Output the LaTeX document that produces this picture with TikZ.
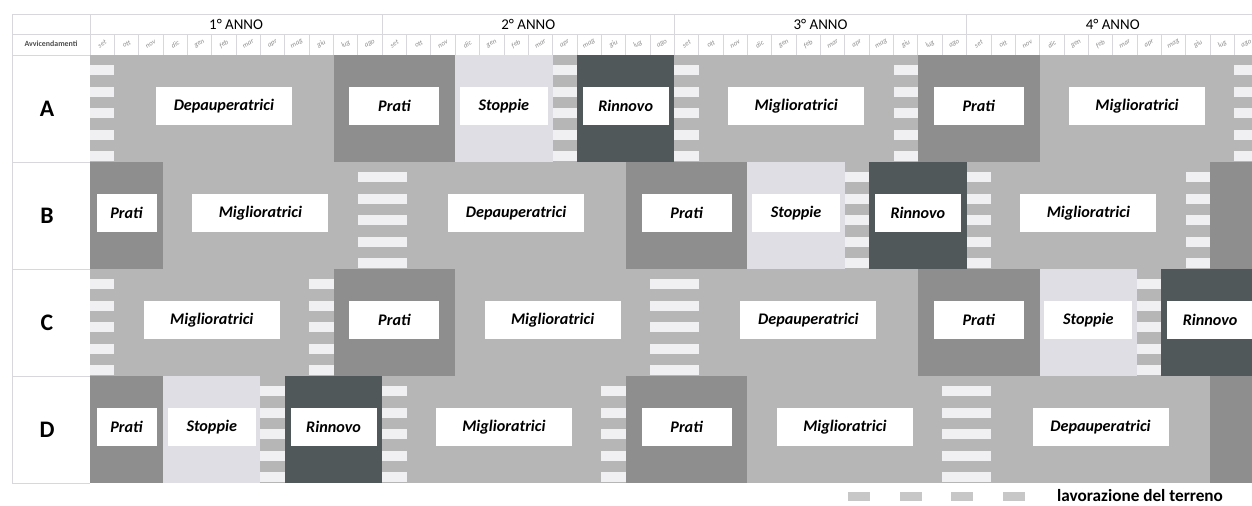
\documentclass[tikz,border=0pt]{standalone}
\usepackage{fontspec}
\setmainfont{Carlito}
\usetikzlibrary{positioning}

\definecolor{campo}{HTML}{B6B6B6}
\definecolor{prato}{HTML}{8E8E8E}
\definecolor{stoppia}{HTML}{DEDEE4}
\definecolor{rinnovo}{HTML}{505859}
\definecolor{barra}{HTML}{F0F0F2}
\definecolor{linea}{HTML}{D8D8DC}

\begin{document}
\begin{tikzpicture}[
    x=0.02cm, y=-0.02cm,
    campo/.style={fill=campo},
    prato/.style={fill=prato},
    stoppia/.style={fill=stoppia},
    rinnovo/.style={fill=rinnovo},
    etich/.style={fill=white, inner sep=0pt, minimum height=0.76cm, font=\bfseries\itshape\fontsize{9.2}{10}\selectfont},
    lettera/.style={font=\bfseries\fontsize{13.5}{15}\selectfont},
    anno/.style={font=\fontsize{8.5}{10}\selectfont},
    mese/.style={font=\itshape\fontsize{4}{5}\selectfont, text=black!45, rotate=30, inner sep=0pt},
    griglia/.style={draw=linea, line width=0.5pt},
    legq/.style={fill=black!22, inner sep=0pt, minimum width=0.44cm, minimum height=0.18cm}
]
\useasboundingbox (0,0) rectangle (1252,505);

% intestazione
\draw[griglia] (12,14) -- (1252,14);
\draw[griglia] (12,34) -- (1252,34);
\draw[griglia] (12,55) -- (90,55);
\draw[griglia] (12,14) -- (12,483);
\draw[griglia] (90,14) -- (90,483);
\foreach \y in {162,269,376,483}
  \draw[griglia] (12,\y) -- (90,\y);
\foreach \k in {1,2,3}
  \draw[griglia] ({90+292.2*\k},14) -- ++(0,41);
\foreach \k in {1,...,47}
  \draw[griglia] ({90+24.35*\k},34) -- ++(0,21);
\foreach \k in {1,...,4}
  \node[anno] (anno\k) at ({90+292.2*(\k-0.5)},24) {\k° ANNO};
\node[font=\bfseries\fontsize{4.5}{5}\selectfont, text=black!70] (avv) at (51,44) {Avvicendamenti};
\foreach \mm [count=\k from 0] in {set,ott,nov,dic,gen,feb,mar,apr,mag,giu,lug,ago}
  \foreach \n in {0,...,3}
    \node[mese] (m\n-\k) at ({90+24.35*(\n*12+\k+0.5)},44) {\mm};

% avvicendamenti
\begin{scope}
\clip (90,55) rectangle (1252,483);
\foreach \r/\t/\blocchi/\solchi in {
  A/55/{1/10/campo/Depauperatrici/136, 10/15/prato/Prati/90, 15/19/stoppia/Stoppie/88, 20/24/rinnovo/Rinnovo/86, 25/33/campo/Miglioratrici/136, 34/39/prato/Prati/90, 39/47/campo/Miglioratrici/136}/{0/1, 19/20, 24/25, 33/34, 47/48},
  B/162/{0/3/prato/Prati/60, 3/11/campo/Miglioratrici/136, 13/22/campo/Depauperatrici/136, 22/27/prato/Prati/90, 27/31/stoppia/Stoppie/88, 32/36/rinnovo/Rinnovo/86, 37/45/campo/Miglioratrici/136}/{11/13, 31/32, 36/37, 45/46},
  C/269/{1/9/campo/Miglioratrici/136, 10/15/prato/Prati/90, 15/23/campo/Miglioratrici/136, 25/34/campo/Depauperatrici/136, 34/39/prato/Prati/90, 39/43/stoppia/Stoppie/88, 44/48/rinnovo/Rinnovo/86}/{0/1, 9/10, 23/25, 43/44},
  D/376/{0/3/prato/Prati/60, 3/7/stoppia/Stoppie/88, 8/12/rinnovo/Rinnovo/86, 13/21/campo/Miglioratrici/136, 22/27/prato/Prati/90, 27/35/campo/Miglioratrici/136, 37/46/campo/Depauperatrici/136}/{7/8, 12/13, 21/22, 35/37}} {
  \foreach \a/\b/\tipo/\testo/\w in \blocchi {
    \fill[\tipo] ({90+24.35*\a},\t) rectangle ({90+24.35*\b},\t+107);
    \node[etich, minimum width=\w*0.02cm] (\r-\a) at ({90+12.175*(\a+\b)},\t+51) {\testo};
  }
  % lavorazione del terreno
  \foreach \a/\b in \solchi {
    \fill[campo] ({90+24.35*\a},\t) rectangle ({90+24.35*\b},\t+107);
    \foreach \i in {0,...,4}
      \fill[barra] ({90+24.35*\a},{\t+10+21.5*\i}) rectangle ({90+24.35*\b},{\t+20+21.5*\i});
  }
}
\fill[prato] ({90+24.35*46},162) rectangle (1252,269);
\fill[prato] ({90+24.35*46},376) rectangle (1252,483);
\end{scope}

\foreach \r/\t in {A/55, B/162, C/269, D/376}
  \node[lettera] (riga\r) at (47,\t+54) {\r};

% legenda
\foreach \k in {0,...,3}
  \node[legq] (q\k) at ({859+51.5*\k},496) {};
\node[font=\bfseries\fontsize{9.8}{11}\selectfont, inner sep=0pt, right=0.64cm of q3] (leg) {lavorazione del terreno};
\end{tikzpicture}
\end{document}
